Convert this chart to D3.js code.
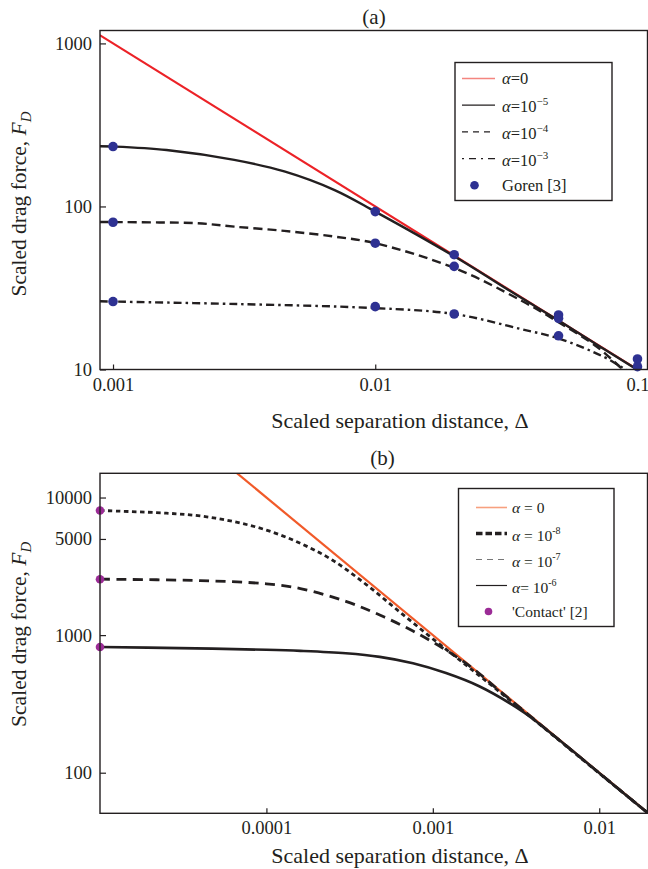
<!DOCTYPE html>
<html>
<head>
<meta charset="utf-8">
<script src="https://cdn.jsdelivr.net/npm/d3@7"></script>
<style>
  body { margin: 0; background: #fff; }
  svg text { font-family: "Liberation Serif", "Times New Roman", serif; fill: #231f20; }
</style>
</head>
<body>
<script>
// ---------- panel (a) data ----------
var aTickX = [0.001, 0.01, 0.1];
var aTickXLabels = ["0.001", "0.01", "0.1"];
var aTickY = [10, 100, 1000];

var aDeltaAlpha0 = [0.00089, 0.109];
var aForceAlpha0 = [1124, 9.17];

var aDeltaAlpha1e5 = [0.00089, 0.001, 0.0016, 0.0029, 0.0045, 0.007, 0.01, 0.02, 0.035, 0.05, 0.075, 0.1, 0.109];
var aForceAlpha1e5 = [234, 233, 222, 193, 164, 126, 93, 49.5, 28.3, 20, 13.25, 9.95, 9.1];

var aDeltaAlpha1e4 = [0.00089, 0.001, 0.0015, 0.0021, 0.0029, 0.0045, 0.007, 0.01, 0.02, 0.036, 0.05, 0.07, 0.088, 0.097];
var aForceAlpha1e4 = [80.3, 80.2, 79.8, 78.9, 75.2, 70.8, 65.3, 59.5, 42, 26.5, 19.5, 13.8, 10, 8.8];

var aDeltaAlpha1e3 = [0.00089, 0.001, 0.003, 0.01, 0.02, 0.036, 0.05, 0.074, 0.089, 0.097];
var aForceAlpha1e3 = [26.2, 26.1, 25.2, 23.8, 21.9, 17.7, 15.5, 12, 10.1, 9.2];

// Goren [3] points
var gorenDelta = [0.001, 0.01, 0.02, 0.05, 0.1, 0.001, 0.01, 0.02, 0.05, 0.1, 0.001, 0.01, 0.02, 0.05];
var gorenForce = [233, 93, 50.6, 21.6, 11.6, 80, 59.5, 42.9, 20.6, 10.4, 26.1, 24.3, 21.9, 16.1];

// ---------- panel (b) data ----------
var bTickX = [0.0001, 0.001, 0.01];
var bTickXLabels = ["0.0001", "0.001", "0.01"];
var bTickY = [100, 1000, 5000, 10000];

var bDeltaAlpha0 = [0.00001, 0.0195];
var bForceAlpha0 = [100000, 51.3];

var bDeltaAlpha1e8 = [0.00001, 0.000025, 0.00004, 0.000063, 0.0001, 0.00016, 0.00025, 0.0004, 0.00063, 0.001, 0.0016, 0.0025, 0.004, 0.01, 0.0195];
var bForceAlpha1e8 = [8050, 7700, 7350, 6700, 5800, 4650, 3500, 2320, 1480, 940, 600, 390, 246, 99, 51.2];

var bDeltaAlpha1e7 = [0.00001, 0.00004, 0.0001, 0.00016, 0.0003, 0.00048, 0.00076, 0.0012, 0.00174, 0.0025, 0.004, 0.01, 0.0195];
var bForceAlpha1e7 = [2550, 2490, 2360, 2180, 1760, 1400, 1070, 778, 573, 396, 248, 99.5, 51.2];

var bDeltaAlpha1e6 = [0.00001, 0.00003, 0.0001, 0.00016, 0.0003, 0.00048, 0.00076, 0.0012, 0.0019, 0.00316, 0.004, 0.0063, 0.01, 0.0195];
var bForceAlpha1e6 = [820, 805, 782, 768, 738, 695, 624, 530, 425, 300, 246, 158, 99.5, 51.2];

// 'Contact' [2] points
var contactDelta = [0.00001, 0.00001, 0.00001];
var contactForce = [8050, 2550, 820];

var INK = "#231f20";
var svg = d3.select("body").append("svg").attr("width", 648).attr("height", 869);

function zip(xs, ys) {
    return xs.map(function(v, i) { return [v, ys[i]]; });
}

// writes "α=10^exp" style labels into a text element
function alphaLabel(text, eq, base, exp, supSize) {
    text.append("tspan").style("font-style", "italic").text("α");
    text.append("tspan").text(eq + base);
    if (exp) {
        text.append("tspan").attr("dy", -7).style("font-size", supSize + "px").text(exp);
    }
}

function drawPanel(p) {
    var x = d3.scaleLog().domain(p.xDomain).range([p.left, p.right]);
    var y = d3.scaleLog().domain(p.yDomain).range([p.bottom, p.top]);
    var g = svg.append("g");

    g.append("clipPath").attr("id", "clip-" + p.id)
        .append("rect")
        .attr("x", p.left).attr("y", p.top)
        .attr("width", p.right - p.left).attr("height", p.bottom - p.top);

    // axes, ticks pointing inwards
    var xAxis = d3.axisBottom(x)
        .tickValues(p.xTicks)
        .tickFormat(function(d, i) { return p.xTickLabels[i]; })
        .tickSizeInner(-5).tickSizeOuter(0).tickPadding(8);
    var yAxis = d3.axisLeft(y)
        .tickValues(p.yTicks)
        .tickFormat(d3.format("d"))
        .tickSizeInner(-6).tickSizeOuter(0).tickPadding(8);

    var gx = g.append("g").attr("transform", "translate(0," + p.bottom + ")").call(xAxis);
    var gy = g.append("g").attr("transform", "translate(" + p.left + ",0)").call(yAxis);
    [gx, gy].forEach(function(a) {
        a.select(".domain").remove();
        a.selectAll("line").attr("stroke", INK).attr("stroke-width", 1.2);
        a.selectAll("text").attr("fill", INK)
            .style("font-family", "'Liberation Serif', serif").style("font-size", "18.5px");
    });

    var line = d3.line()
        .x(function(d) { return x(d[0]); })
        .y(function(d) { return y(d[1]); })
        .curve(d3.curveCatmullRom.alpha(0.5));

    var plot = g.append("g").attr("clip-path", "url(#clip-" + p.id + ")");
    p.series.forEach(function(s) {
        plot.append("path")
            .attr("d", line(zip(s.delta, s.force)))
            .attr("fill", "none")
            .attr("stroke", s.color)
            .attr("stroke-width", s.width)
            .attr("stroke-dasharray", s.dash || null);
    });

    g.selectAll(".dot-" + p.id)
        .data(zip(p.dots.delta, p.dots.force))
        .enter().append("circle")
        .attr("class", "dot-" + p.id)
        .attr("cx", function(d) { return x(d[0]); })
        .attr("cy", function(d) { return y(d[1]); })
        .attr("r", p.dots.r)
        .attr("fill", p.dots.color);

    // frame
    g.append("rect")
        .attr("x", p.left).attr("y", p.top)
        .attr("width", p.right - p.left).attr("height", p.bottom - p.top)
        .attr("fill", "none").attr("stroke", INK).attr("stroke-width", 1.4);

    // titles
    g.append("text").attr("x", p.titleX).attr("y", p.titleY)
        .attr("text-anchor", "middle").style("font-size", "21px").text(p.title);

    g.append("text").attr("x", 400).attr("y", p.xTitleY)
        .attr("text-anchor", "middle").style("font-size", "22px")
        .text("Scaled separation distance, Δ");

    var yt = g.append("text")
        .attr("transform", "translate(26," + ((p.top + p.bottom) / 2 + p.yTitleShift) + ") rotate(-90)")
        .attr("text-anchor", "middle").style("font-size", "21.5px");
    yt.append("tspan").text("Scaled drag force, ");
    yt.append("tspan").style("font-style", "italic").text("F");
    yt.append("tspan").attr("dy", 5).style("font-style", "italic").style("font-size", "15px").text("D");

    // legend
    var L = p.legend;
    var lg = g.append("g");
    lg.append("rect")
        .attr("x", L.x).attr("y", L.y).attr("width", L.w).attr("height", L.h)
        .attr("fill", "#fff").attr("stroke", INK).attr("stroke-width", 1.4);

    L.items.forEach(function(it, i) {
        var cy = L.y + L.first + i * L.step;
        if (it.dot) {
            lg.append("circle")
                .attr("cx", (L.s0 + L.s1) / 2 + L.dotShift).attr("cy", cy)
                .attr("r", p.dots.r - 0.5).attr("fill", p.dots.color);
        } else {
            lg.append("line")
                .attr("x1", L.s0).attr("x2", L.s1).attr("y1", cy).attr("y2", cy)
                .attr("stroke", it.color).attr("stroke-width", it.width)
                .attr("stroke-dasharray", it.dash || null);
        }
        var t = lg.append("text")
            .attr("x", L.tx).attr("y", cy + (it.exp ? 7 : 5.5))
            .style("font-size", L.font + "px");
        if (it.text) t.text(it.text);
        else alphaLabel(t, it.eq, it.base, it.exp, L.sup);
    });
}

drawPanel({
    id: "a",
    left: 100, right: 647.5, top: 30.5, bottom: 369.5,
    xDomain: [0.000892, 0.1092], yDomain: [10, 1200],
    xTicks: aTickX, xTickLabels: aTickXLabels, yTicks: aTickY,
    title: "(a)", titleX: 374, titleY: 24, xTitleY: 428, yTitleShift: 4,
    series: [
        { delta: aDeltaAlpha0, force: aForceAlpha0, color: "#ec2227", width: 2.2 },
        { delta: aDeltaAlpha1e5, force: aForceAlpha1e5, color: INK, width: 2.4 },
        { delta: aDeltaAlpha1e4, force: aForceAlpha1e4, color: INK, width: 2.4, dash: "9,5" },
        { delta: aDeltaAlpha1e3, force: aForceAlpha1e3, color: INK, width: 2.4, dash: "8,4,2.5,4" }
    ],
    dots: { delta: gorenDelta, force: gorenForce, r: 4.8, color: "#2e3192" },
    legend: {
        x: 455, y: 62.5, w: 157, h: 138, first: 16, step: 26.7,
        s0: 462, s1: 495, tx: 502, font: 16.5, sup: 11, dotShift: -4,
        items: [
            { color: "#f4857f", width: 1.5, eq: "=", base: "0" },
            { color: INK, width: 1.2, eq: "=", base: "10", exp: "−5" },
            { color: INK, width: 1.2, dash: "6,5", eq: "=", base: "10", exp: "−4" },
            { color: INK, width: 1.2, dash: "2,5,7,5", eq: "=", base: "10", exp: "−3" },
            { dot: true, text: "Goren [3]" }
        ]
    }
});

drawPanel({
    id: "b",
    left: 100, right: 647.5, top: 473.3, bottom: 813.3,
    xDomain: [0.00001, 0.0195], yDomain: [50.7, 15000],
    xTicks: bTickX, xTickLabels: bTickXLabels, yTicks: bTickY,
    title: "(b)", titleX: 382.5, titleY: 465, xTitleY: 863, yTitleShift: -9,
    series: [
        { delta: bDeltaAlpha0, force: bForceAlpha0, color: "#f15a29", width: 2.2 },
        { delta: bDeltaAlpha1e8, force: bForceAlpha1e8, color: INK, width: 2.8, dash: "4.5,3.5" },
        { delta: bDeltaAlpha1e7, force: bForceAlpha1e7, color: INK, width: 2.8, dash: "10,6.5" },
        { delta: bDeltaAlpha1e6, force: bForceAlpha1e6, color: INK, width: 2.6 }
    ],
    dots: { delta: contactDelta, force: contactForce, r: 4.3, color: "#9b2b96" },
    legend: {
        x: 458.5, y: 488.5, w: 155.5, h: 138, first: 19, step: 26,
        s0: 476, s1: 507, tx: 512, font: 15.5, sup: 10, dotShift: -3,
        items: [
            { color: "#f7a07f", width: 1.6, eq: " = ", base: "0" },
            { color: INK, width: 3.5, dash: "6.5,3", eq: " = ", base: "10", exp: "-8" },
            { color: "#777", width: 1.2, dash: "6,5", eq: " = ", base: "10", exp: "-7" },
            { color: INK, width: 1.2, eq: "= ", base: "10", exp: "-6" },
            { dot: true, text: "'Contact' [2]" }
        ]
    }
});
</script>
</body>
</html>
